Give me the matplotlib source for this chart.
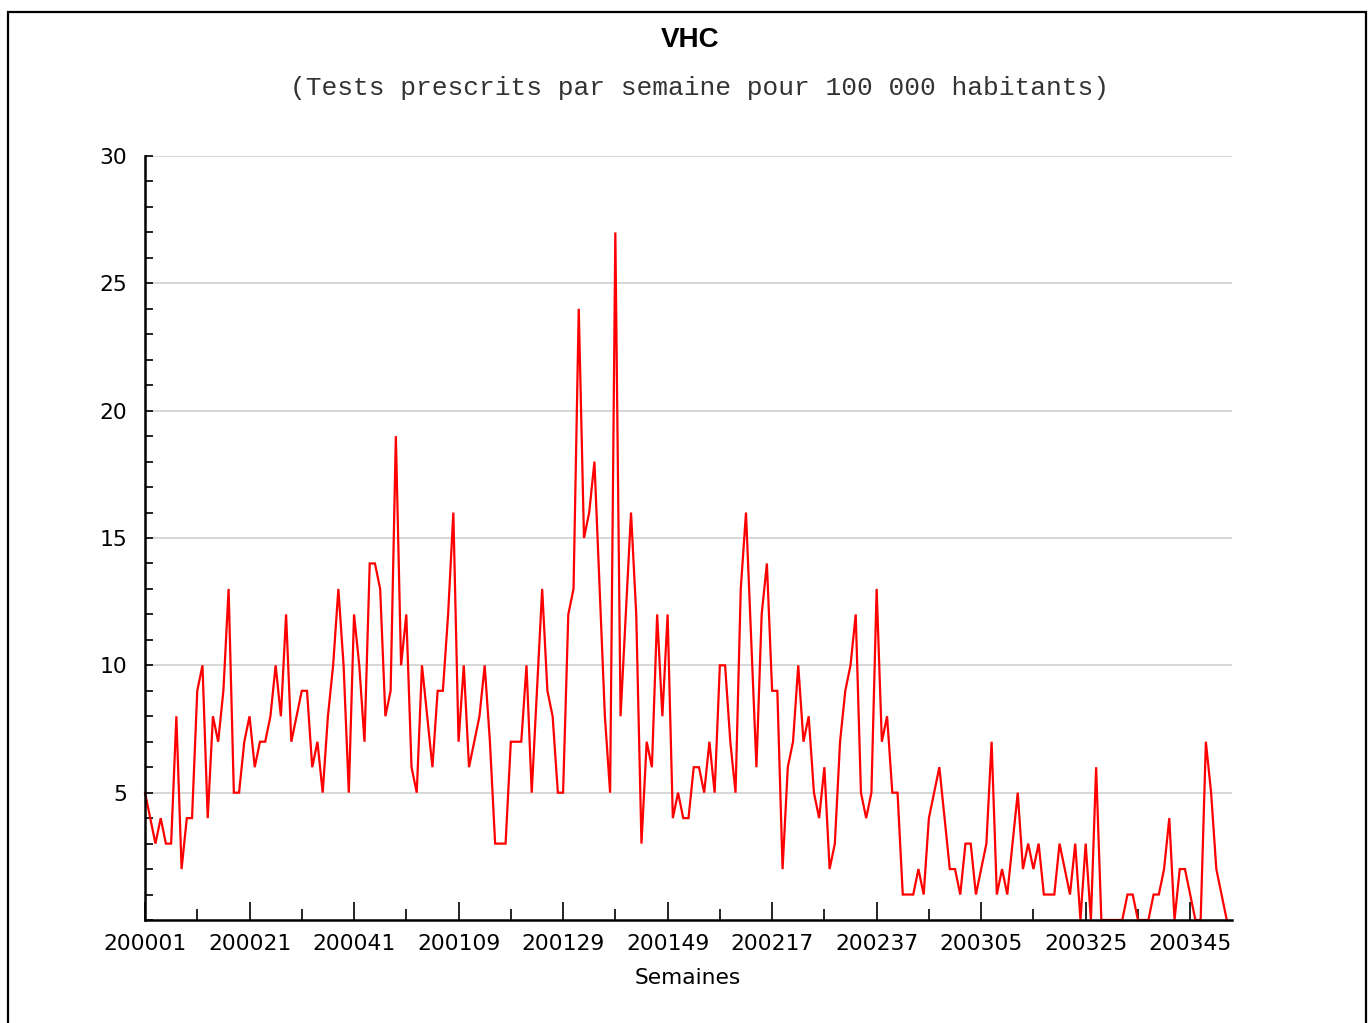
import matplotlib
matplotlib.use("Agg")
import matplotlib.pyplot as plt
from matplotlib.patches import Rectangle
from matplotlib.ticker import MultipleLocator, FixedLocator
import numpy as np

# Weekly HCV test prescriptions per 100 000 inhabitants, 52 weeks per year
values_2000 = [5, 4, 3, 4, 3, 3, 8, 2, 4, 4,
               9, 10, 4, 8, 7, 9, 13, 5, 5, 7,
               8, 6, 7, 7, 8, 10, 8, 12, 7, 8,
               9, 9, 6, 7, 5, 8, 10, 13, 10, 5,
               12, 10, 7, 14, 14, 13, 8, 9, 19, 10,
               12, 6]
values_2001 = [5, 10, 8, 6, 9, 9, 12, 16,
               7, 10, 6, 7, 8, 10, 7, 3, 3, 3,
               7, 7, 7, 10, 5, 9, 13, 9, 8, 5,
               5, 12, 13, 24, 15, 16, 18, 13, 8, 5,
               27, 8, 12, 16, 12, 3, 7, 6, 12, 8,
               12, 4, 5, 4]
values_2002 = [4, 6, 6, 5, 7, 5,
               10, 10, 7, 5, 13, 16, 11, 6, 12, 14,
               9, 9, 2, 6, 7, 10, 7, 8, 5, 4,
               6, 2, 3, 7, 9, 10, 12, 5, 4, 5,
               13, 7, 8, 5, 5, 1, 1, 1, 2, 1,
               4, 5, 6, 4, 2, 2]
values_2003 = [1, 3, 3, 1,
               2, 3, 7, 1, 2, 1, 3, 5, 2, 3,
               2, 3, 1, 1, 1, 3, 2, 1, 3, 0,
               3, 0, 6, 0, 0, 0, 0, 0, 1, 1,
               0, 0, 0, 1, 1, 2, 4, 0, 2, 2,
               1, 0, 0, 7, 5, 2, 1, 0]

week_labels = ["200001", "200021", "200041", "200109", "200129", "200149",
               "200217", "200237", "200305", "200325", "200345"]

title = "VHC"
subtitle = "(Tests prescrits par semaine pour 100 000 habitants)"
xlabel = "Semaines"

series = np.array(values_2000 + values_2001 + values_2002 + values_2003)
weeks = np.arange(len(series))

W, H = 1370, 1023
fig = plt.figure(figsize=(W / 100, H / 100), dpi=100)
fig.patch.set_facecolor("white")

ax = fig.add_axes([145 / W, 1 - 920 / H, 1087 / W, 764 / H])
ax.plot(weeks, series, color="#ff0000", lw=1.6, solid_joinstyle="miter",
        zorder=3, clip_on=False)

ax.set_xlim(0, len(series))
ax.set_ylim(0, 30)

# y axis: labels every 5, small ticks every unit
ax.yaxis.set_major_locator(FixedLocator([5, 10, 15, 20, 25, 30]))
ax.yaxis.set_minor_locator(MultipleLocator(1))
ax.tick_params(axis="y", which="both", direction="in", length=6, width=1.2,
               labelsize=15.7, pad=13)

# x axis: labelled ticks every 20 weeks, small ticks in between
ax.xaxis.set_major_locator(FixedLocator(np.arange(0, len(series), 20)))
ax.xaxis.set_minor_locator(FixedLocator(np.arange(10, len(series), 20)))
ax.set_xticklabels(week_labels)
ax.tick_params(axis="x", which="major", direction="in", length=13, width=1.2,
               labelsize=15.7, pad=10)
ax.tick_params(axis="x", which="minor", direction="in", length=8, width=1.2)

ax.grid(axis="y", which="major", color="#d4d4d4", lw=1.3, zorder=0)
for side in ("top", "right"):
    ax.spines[side].set_visible(False)
for side in ("left", "bottom"):
    ax.spines[side].set_linewidth(1.8)
    ax.spines[side].set_color("black")
    ax.spines[side].set_zorder(4)

for lbl in ax.get_xticklabels() + ax.get_yticklabels():
    lbl.set_family("DejaVu Sans")

fig.text(690 / W, 1 - 40 / H, title, ha="center", va="center",
         family="Liberation Sans", weight="bold", fontsize=20)
fig.text(699 / W, 1 - 88 / H, subtitle, ha="center", va="center",
         family="Liberation Mono", fontsize=18.9, color="#333333")
fig.text(688 / W, 1 - 978 / H, xlabel, ha="center", va="center",
         family="DejaVu Sans", fontsize=15.7)

# outer frame around the chart
fig.patches.append(Rectangle((8 / W, -0.02), (1366 - 8) / W, (H - 12) / H + 0.02,
                             transform=fig.transFigure, fill=False,
                             ec="black", lw=1.6))

fig.savefig("out.png", dpi=100)
